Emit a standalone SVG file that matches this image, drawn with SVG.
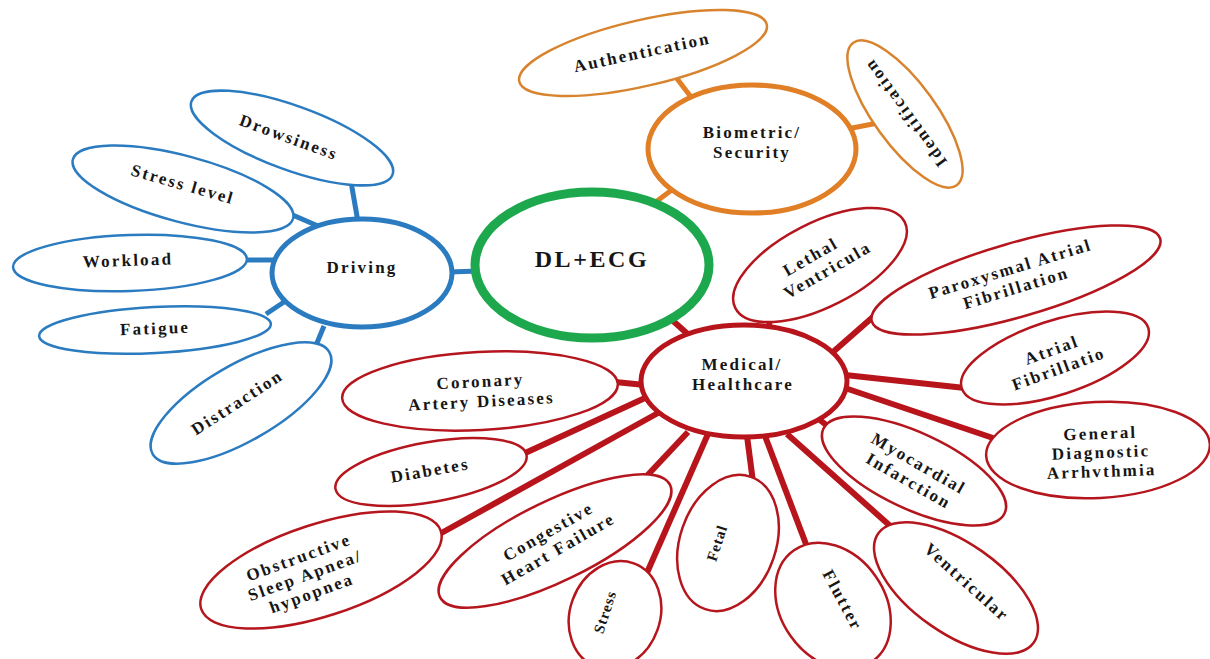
<svg xmlns="http://www.w3.org/2000/svg" width="1210" height="659" viewBox="0 0 1210 659">
<style>
.t{font-family:"Liberation Serif","Times New Roman",serif;font-weight:bold;font-size:17px;letter-spacing:2.2px;fill:#161616;text-anchor:middle}
.big{font-size:24px;letter-spacing:2.6px}
.sm{font-size:15px;letter-spacing:1px}
.lb{fill:#fff;stroke:#2b7bc0;stroke-width:2.5}
.lo{fill:#fff;stroke:#d8842f;stroke-width:2.5}
.lr{fill:#fff;stroke:#b5161d;stroke-width:2.5}
.hb{fill:#fff;stroke:#2b7bc0;stroke-width:5}
.ho{fill:#fff;stroke:#e07f25;stroke-width:5}
.hr{fill:#fff;stroke:#b8141c;stroke-width:5}
.hg{fill:#fff;stroke:#1ea84d;stroke-width:9}
.cb{stroke:#2b7bc0;stroke-width:5;stroke-linecap:butt}
.co{stroke:#e07f25;stroke-width:5}
.cr{stroke:#b8141c;stroke-width:6}
</style>
<rect width="1210" height="659" fill="#fff"/>
<g id="connectors">
<line class="cb" x1="350" y1="176" x2="358" y2="222"/>
<line class="cb" x1="288" y1="213" x2="318" y2="226"/>
<line class="cb" x1="244" y1="260" x2="276" y2="260"/>
<line class="cb" x1="266" y1="314" x2="284" y2="302"/>
<line class="cb" x1="312" y1="355" x2="324" y2="326"/>
<line class="cb" x1="450" y1="272" x2="478" y2="271"/>
<line class="co" x1="672" y1="72" x2="694" y2="101"/>
<line class="co" x1="852" y1="128" x2="878" y2="123"/>
<line class="co" x1="653" y1="204" x2="677" y2="186"/>
<line class="cr" x1="672" y1="320" x2="691" y2="337"/>
<line class="cr" x1="770" y1="312" x2="769" y2="328"/>
<line class="cr" x1="833" y1="352" x2="874" y2="316"/>
<line class="cr" x1="845" y1="375" x2="965" y2="388"/>
<line class="cr" x1="845" y1="388" x2="993" y2="438"/>
<line class="cr" x1="820" y1="420" x2="836" y2="433"/>
<line class="cr" x1="787" y1="434" x2="897" y2="532"/>
<line class="cr" x1="765" y1="436" x2="809" y2="552"/>
<line class="cr" x1="747" y1="436" x2="753" y2="482"/>
<line class="cr" x1="708" y1="434" x2="646" y2="575"/>
<line class="cr" x1="688" y1="432" x2="643" y2="480"/>
<line class="cr" x1="658" y1="413" x2="436" y2="536"/>
<line class="cr" x1="645" y1="398" x2="523" y2="454"/>
<line class="cr" x1="615" y1="382" x2="645" y2="385"/>
</g>
<g id="driving-leaves">
<g id="drowsiness"><ellipse class="lb" cx="292" cy="138" rx="107" ry="32" transform="rotate(20 292 138)"/><text class="t" transform="translate(289 137) rotate(20)" y="6">Drowsiness</text></g>
<g id="stress-level"><ellipse class="lb" cx="183" cy="189" rx="114" ry="33" transform="rotate(15 183 189)"/><text class="t" transform="translate(183 184) rotate(16)" y="6">Stress level</text></g>
<g id="workload"><ellipse class="lb" cx="130" cy="263" rx="117" ry="28" transform="rotate(-2 130 263)"/><text class="t" transform="translate(128 260) rotate(-2)" y="6">Workload</text></g>
<g id="fatigue"><ellipse class="lb" cx="155" cy="330" rx="116" ry="23" transform="rotate(-3 155 330)"/><text class="t" transform="translate(155 328) rotate(-2)" y="6">Fatigue</text></g>
<g id="distraction"><ellipse class="lb" cx="241" cy="403" rx="102" ry="38" transform="rotate(-30 241 403)"/><text class="t" transform="translate(237 402) rotate(-33)" y="6">Distraction</text></g>
</g>
<g id="driving"><ellipse class="hb" cx="362" cy="273" rx="90" ry="54"/><text class="t" x="362" y="273">Driving</text></g>
<g id="biometric-leaves">
<g id="authentication"><ellipse class="lo" cx="643" cy="53" rx="127" ry="33" transform="rotate(-13 643 53)"/><text class="t" transform="translate(642 52) rotate(-12)" y="6">Authentication</text></g>
<g id="identification"><ellipse class="lo" cx="905" cy="114" rx="88" ry="31" transform="rotate(54 905 114)"/><text class="t" transform="translate(905 113) rotate(-126)" y="6">Identification</text></g>
</g>
<g id="biometric"><ellipse class="ho" cx="752" cy="149" rx="104" ry="64"/><text class="t" x="752" y="138">Biometric/<tspan x="752" y="158">Security</tspan></text></g>
<g id="dl-ecg"><ellipse class="hg" cx="592" cy="265" rx="117" ry="73"/><text class="t big" x="592" y="267">DL+ECG</text></g>
<g id="medical-leaves">
<g id="lethal"><ellipse class="lr" cx="820" cy="265" rx="95" ry="42" transform="rotate(-27 820 265)"/><text class="t" transform="translate(819 263) rotate(-30)"><tspan x="-4" y="-4">Lethal</tspan><tspan x="4" y="16">Ventricula</tspan></text></g>
<g id="paroxysmal"><ellipse class="lr" cx="1016" cy="280" rx="150" ry="37" transform="rotate(-16 1016 280)"/><text class="t" transform="translate(1013 278) rotate(-17)"><tspan x="0" y="-4">Paroxysmal Atrial</tspan><tspan x="0" y="16">Fibrillation</tspan></text></g>
<g id="atrial"><ellipse class="lr" cx="1055" cy="358" rx="98" ry="37" transform="rotate(-18 1055 358)"/><text class="t" transform="translate(1055 359) rotate(-20)"><tspan x="0" y="-4">Atrial</tspan><tspan x="0" y="16">Fibrillatio</tspan></text></g>
<g id="general"><ellipse class="lr" cx="1098" cy="450" rx="112" ry="48" transform="rotate(-3 1098 450)"/><text class="t" transform="translate(1101 452) rotate(-2)"><tspan x="0" y="-13">General</tspan><tspan x="0" y="6">Diagnostic</tspan><tspan x="0" y="25">Arrhvthmia</tspan></text></g>
<g id="myocardial"><ellipse class="lr" cx="914" cy="471" rx="100" ry="38" transform="rotate(25 914 471)"/><text class="t" transform="translate(914 472) rotate(30)"><tspan x="0" y="-4">Myocardial</tspan><tspan x="0" y="16">Infarction</tspan></text></g>
<g id="ventricular"><ellipse class="lr" cx="956" cy="588" rx="95" ry="45" transform="rotate(35 956 588)"/><text class="t" transform="translate(967 582) rotate(42)" y="6">Ventricular</text></g>
<g id="flutter"><ellipse class="lr" cx="833" cy="606" rx="68" ry="52" transform="rotate(55 833 606)"/><text class="t" transform="translate(843 600) rotate(62)" y="6">Flutter</text></g>
<g id="fetal"><ellipse class="lr" cx="728" cy="543" rx="70" ry="48" transform="rotate(-71 728 543)"/><text class="t sm" transform="translate(717 543) rotate(-72)" y="5">Fetal</text></g>
<g id="stress"><ellipse class="lr" cx="615" cy="615" rx="55" ry="45" transform="rotate(-70 615 615)"/><text class="t sm" transform="translate(605 612) rotate(-72)" y="5">Stress</text></g>
<g id="congestive"><ellipse class="lr" cx="555" cy="541" rx="128" ry="40" transform="rotate(-26 555 541)"/><text class="t" transform="translate(553 540) rotate(-30)"><tspan x="0" y="-4">Congestive</tspan><tspan x="0" y="16">Heart Failure</tspan></text></g>
<g id="obstructive"><ellipse class="lr" cx="321" cy="570" rx="126" ry="46" transform="rotate(-18 321 570)"/><text class="t" transform="translate(305 575) rotate(-20)"><tspan x="0" y="-13">Obstructive</tspan><tspan x="0" y="6">Sleep Apnea/</tspan><tspan x="0" y="25">hypopnea</tspan></text></g>
<g id="diabetes"><ellipse class="lr" cx="431" cy="472" rx="97" ry="30" transform="rotate(-10 431 472)"/><text class="t" transform="translate(430 470) rotate(-10)" y="6">Diabetes</text></g>
<g id="coronary"><ellipse class="lr" cx="480" cy="391" rx="138" ry="39" transform="rotate(-3 480 391)"/><text class="t" transform="translate(481 391) rotate(-3)"><tspan x="0" y="-4">Coronary</tspan><tspan x="0" y="16">Artery Diseases</tspan></text></g>
</g>
<g id="medical"><ellipse class="hr" cx="744" cy="381" rx="103" ry="56"/><text class="t" x="742" y="370">Medical/<tspan x="743" y="390">Healthcare</tspan></text></g>
</svg>
